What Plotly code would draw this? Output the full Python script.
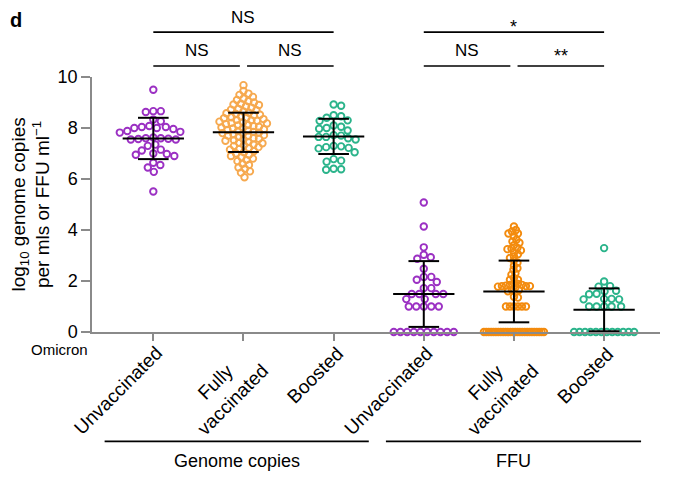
import plotly.graph_objects as go
from collections import Counter

# ---------------- data ----------------
categories = ["Unvaccinated", "Fully<br>vaccinated", "Boosted",
              "Unvaccinated", "Fully<br>vaccinated", "Boosted"]
group_labels = ["Genome copies", "FFU"]
group_spans = [(-0.54, 2.39), (2.58, 5.41)]

genome_unvacc = [9.50, 8.66, 8.63, 8.66, 8.33, 8.26, 8.00, 8.08, 7.96, 8.00, 8.04, 8.04,
                 7.88, 7.82, 7.85, 7.60, 7.60, 7.55, 7.63, 7.58, 7.57, 7.55, 7.35, 7.30,
                 7.15, 7.12, 6.90, 7.00, 6.95, 6.98, 6.64, 6.45, 6.55, 6.28, 5.51]
genome_full = [9.68, 9.45, 9.35, 9.30, 9.22, 9.15, 9.10, 9.05, 9.00, 8.95, 8.90, 8.92,
               8.85, 8.80, 8.75, 8.72, 8.70, 8.65, 8.60, 8.58, 8.55, 8.52, 8.50,
               8.45, 8.42, 8.40, 8.38, 8.35, 8.32, 8.30, 8.28, 8.25, 8.22, 8.20, 8.18,
               8.15, 8.12, 8.10, 8.08, 8.05, 8.02, 8.00, 7.98, 7.95, 7.92, 7.90,
               7.88, 7.85, 7.82, 7.80, 7.78, 7.75, 7.72, 7.70, 7.68, 7.65, 7.60, 7.58,
               7.55, 7.52, 7.50, 7.45, 7.42, 7.40, 7.35, 7.32, 7.30, 7.25, 7.22, 7.18,
               7.15, 7.10, 7.05, 7.00, 6.95, 6.90, 6.85, 6.80, 6.75, 6.70, 6.60,
               6.55, 6.45, 6.40, 6.30, 6.25, 6.07]
genome_boost = [8.92, 8.87, 8.50, 8.46, 8.40, 8.30, 8.28, 8.10, 8.05, 8.00, 7.97, 7.90,
                7.72, 7.70, 7.65, 7.65, 7.60, 7.55, 7.30, 7.28, 7.25, 7.22, 7.20, 7.05,
                6.78, 6.72, 6.68, 6.40, 6.36, 6.38]
ffu_unvacc = [5.08, 4.14, 3.32, 2.93, 2.87, 3.03, 2.48, 2.16, 2.05, 2.16, 1.96, 1.72, 1.72,
              1.49, 1.49, 1.49, 1.49, 1.29, 1.29, 1.0, 1.0, 1.0, 1.0, 1.0,
              0, 0, 0, 0, 0, 0, 0, 0, 0, 0]
ffu_full = [4.14, 4.00, 3.94, 3.86, 3.86, 3.75, 3.62, 3.55, 3.50, 3.40, 3.30, 3.27, 3.25,
            3.20, 3.12, 3.05, 2.96, 2.90, 2.80, 2.72, 2.60, 2.50, 2.44, 2.30, 2.25, 2.12,
            2.05, 2.05, 1.90, 1.88, 1.85, 1.85, 1.82, 1.80, 1.80, 1.80, 1.78, 1.75, 1.65,
            1.65, 1.60, 1.38, 1.35, 1.0, 1.0, 1.0, 1.0, 1.0, 1.0] + [0] * 26
ffu_boost = [3.29, 1.98, 1.80, 1.78, 1.62, 1.60, 1.50, 1.48, 1.30, 1.30, 1.28, 1.28,
             1.0, 1.0, 1.0, 1.0, 1.0] + [0] * 12

series = [genome_unvacc, genome_full, genome_boost, ffu_unvacc, ffu_full, ffu_boost]
means = [7.59, 7.83, 7.67, 1.49, 1.59, 0.87]
sds = [0.81, 0.77, 0.69, 1.29, 1.21, 0.84]

# comparisons: (from, to, label, level)
comparisons = [(0, 2, "NS", 2), (0, 0.96, "NS", 1), (1.04, 2, "NS", 1),
               (3, 5, "*", 2), (3, 3.96, "NS", 1), (4.04, 5, "**", 1)]

# ---------------- style ----------------
colors = ["#9B30C3", "#F6A94F", "#2BB48B", "#9B30C3", "#F38B0E", "#2BB48B"]
spacing = [7.3, 5.5, 7.3, 7.3, 4.0, 7.3]
FONT = "Liberation Sans, Arial, Helvetica, sans-serif"
# page body has an 8px margin, so the figure is 8px smaller than the window
W, H = 672, 477
ML, MR, MT, MB = 84, 20, 69, 153
XR = [-0.68, 5.62]
YR = [0, 10]
PX_X = (W - ML - MR) / (XR[1] - XR[0])
PX_Y = (H - MT - MB) / (YR[1] - YR[0])


def swarm(vals, d, half=30.0):
    n = len(vals)
    off = [0.0] * n
    placed = []
    done = set()
    for v, c in Counter(vals).items():
        if c * d > 2 * half:
            ids = [i for i in range(n) if vals[i] == v]
            sp = 2 * half / (c - 1)
            for k, i in enumerate(ids):
                off[i] = -half + k * sp
                placed.append((off[i], v * PX_Y))
                done.add(i)
    for i in sorted(range(n), key=lambda j: -vals[j]):
        if i in done:
            continue
        y = vals[i] * PX_Y
        best = None
        step = 0
        while best is None:
            cands = [0.0] if step == 0 else [step * 0.5, -step * 0.5]
            for s in cands:
                if all((s - px) ** 2 + (y - py) ** 2 >= d * d for px, py in placed):
                    best = s
                    break
            step += 1
        off[i] = best
        placed.append((best, y))
    return [o / PX_X for o in off]


fig = go.Figure()
for i, vals in enumerate(series):
    offs = swarm(vals, spacing[i])
    fig.add_trace(go.Scatter(
        x=[i + o for o in offs], y=vals, mode="markers",
        marker=dict(symbol="circle-open", size=6.5, color=colors[i],
                    line=dict(width=1.9, color=colors[i])),
        cliponaxis=False, showlegend=False, hoverinfo="y"))

ex, ey = [], []
for i, (m, s) in enumerate(zip(means, sds)):
    ex += [i - 0.34, i + 0.34, None, i, i, None, i - 0.17, i + 0.17, None, i - 0.17, i + 0.17, None]
    ey += [m, m, None, m - s, m + s, None, m + s, m + s, None, m - s, m - s, None]
fig.add_trace(go.Scatter(x=ex, y=ey, mode="lines", line=dict(color="black", width=2),
                         cliponaxis=False, showlegend=False, hoverinfo="skip"))

shapes = []
annotations = []
lvl_y = {1: 1.043, 2: 1.176}
lvl_t = {1: 1.102, 2: 1.232}
star_drop = {1: 0.02, 2: 0.035}
for a, b, lab, lvl in comparisons:
    shapes.append(dict(type="line", xref="x", yref="paper", x0=a, x1=b,
                       y0=lvl_y[lvl], y1=lvl_y[lvl], line=dict(color="black", width=1.6)))
    annotations.append(dict(text=lab, xref="x", yref="paper", x=(a + b) / 2,
                            y=lvl_t[lvl] - (star_drop[lvl] if "*" in lab else 0), showarrow=False,
                            xanchor="center", yanchor="middle",
                            font=dict(size=17 if lab == "NS" else 18, color="black", family=FONT)))

for (a, b), lab in zip(group_spans, group_labels):
    shapes.append(dict(type="line", xref="x", yref="paper", x0=a, x1=b,
                       y0=-0.429, y1=-0.429, line=dict(color="black", width=1.6)))
    annotations.append(dict(text=lab, xref="x", yref="paper", x=(a + b) / 2, y=-0.506,
                            xanchor="center", yanchor="middle",
                            showarrow=False, font=dict(size=18, color="black", family=FONT)))

for i, lab in enumerate(categories):
    nl = lab.count("<br>") + 1
    annotations.append(dict(text=lab, xref="x", yref="paper", x=i, y=0, textangle=-45,
                            xanchor="right", yanchor="top",
                            xshift=16 if nl == 1 else 32, yshift=-8,
                            showarrow=False, align="center",
                            font=dict(size=19, color="black", family=FONT)))

annotations.append(dict(text="Omicron", xref="paper", yref="paper", x=-0.004, y=-0.07,
                        xanchor="right", yanchor="middle", showarrow=False,
                        font=dict(size=15, color="black", family=FONT)))
annotations.append(dict(text="log<sub>10</sub> genome copies<br>per mls or FFU ml<sup>\u22121</sup>",
                        xref="paper", yref="paper", x=-0.109, y=0.5, textangle=-90,
                        xanchor="center", yanchor="middle", showarrow=False,
                        font=dict(size=19, color="black", family=FONT)))
annotations.append(dict(text="<b>d</b>", xref="paper", yref="paper", x=-0.148, y=1.224,
                        xanchor="left", yanchor="middle", showarrow=False,
                        font=dict(size=20, color="black", family=FONT)))

fig.update_layout(
    width=W, height=H, margin=dict(l=ML, r=MR, t=MT, b=MB),
    paper_bgcolor="white", plot_bgcolor="white",
    font=dict(family=FONT, color="black"),
    shapes=shapes, annotations=annotations,
    xaxis=dict(range=XR, tickvals=list(range(6)), ticktext=[""] * 6, showgrid=False,
               zeroline=False, showline=True, linecolor="#8a8a8a", linewidth=1.5,
               ticks="outside", ticklen=7, tickwidth=1.5, tickcolor="#8a8a8a"),
    yaxis=dict(range=YR, tickvals=[0, 2, 4, 6, 8, 10], showgrid=False, zeroline=False,
               showline=True, linecolor="#8a8a8a", linewidth=1.5, ticks="outside",
               ticklen=9, tickwidth=1.5, tickcolor="#8a8a8a",
               tickfont=dict(size=18, color="black", family=FONT)),
)

fig.write_html("out.html")
